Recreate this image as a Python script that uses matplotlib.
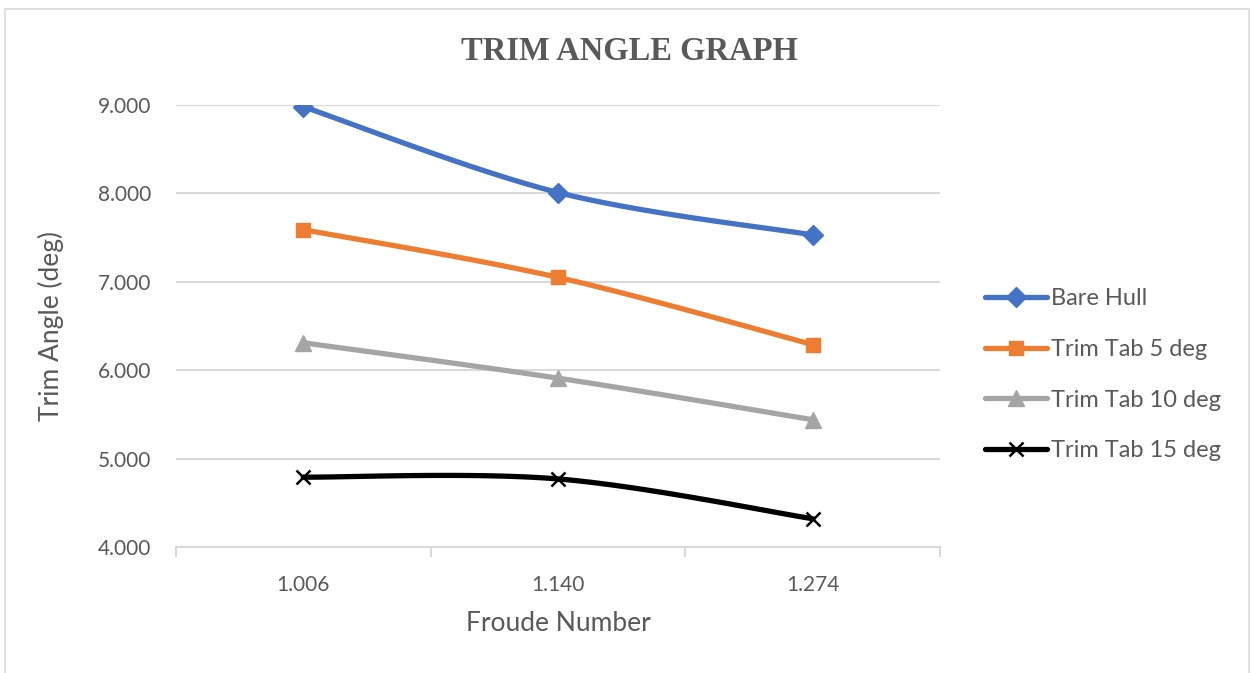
import numpy as np
import matplotlib
matplotlib.use("Agg")
import matplotlib.pyplot as plt
from matplotlib.lines import Line2D
from matplotlib.patches import Rectangle

# Data
froude_labels = ["1.006", "1.140", "1.274"]
bare_hull = [8.98, 8.01, 7.53]
trim_tab_5 = [7.59, 7.05, 6.29]
trim_tab_10 = [6.31, 5.91, 5.44]
trim_tab_15 = [4.79, 4.77, 4.32]

series = [
    ("Bare Hull", bare_hull, "#4472C4", "D", 10),
    ("Trim Tab 5 deg", trim_tab_5, "#ED7D31", "s", 10),
    ("Trim Tab 10 deg", trim_tab_10, "#A5A5A5", "^", 11),
    ("Trim Tab 15 deg", trim_tab_15, "#000000", "x", 10),
]

text_color = "#595959"
grid_color = "#D9D9D9"
font = ["Lato", "DejaVu Sans"]


def smooth_curve(x, y, n=60):
    """Catmull-Rom style Bezier smoothing through the given points."""
    x = np.asarray(x, float)
    y = np.asarray(y, float)
    pts = np.column_stack([x, y])
    out = []
    for i in range(len(pts) - 1):
        p0 = pts[i - 1] if i > 0 else pts[i]
        p1 = pts[i]
        p2 = pts[i + 1]
        p3 = pts[i + 2] if i + 2 < len(pts) else pts[i + 1]
        c1 = p1 + (p2 - p0) / 6.0
        c2 = p2 - (p3 - p1) / 6.0
        t = np.linspace(0, 1, n)[:, None]
        seg = ((1 - t) ** 3) * p1 + 3 * ((1 - t) ** 2) * t * c1 + 3 * (1 - t) * t ** 2 * c2 + t ** 3 * p2
        out.append(seg if i == 0 else seg[1:])
    seg = np.vstack(out)
    return seg[:, 0], seg[:, 1]


fig = plt.figure(figsize=(12.52, 6.73), dpi=100)
fig.patch.set_facecolor("white")
fig.patches.append(Rectangle((0.004, -0.01), 0.994, 0.997, transform=fig.transFigure,
                             fill=False, edgecolor="#D9D9D9", linewidth=1.2))

ax = fig.add_axes([0.1406, 0.1872, 0.6102, 0.6568])
xpos = np.arange(len(froude_labels)) + 0.5

for name, vals, color, marker, ms in series:
    sx, sy = smooth_curve(xpos, vals)
    ax.plot(sx, sy, color=color, linewidth=3.8, solid_capstyle="round", zorder=3)
    if marker == "x":
        ax.plot(xpos, vals, linestyle="none", marker="x", markersize=ms,
                markeredgewidth=1.8, color=color, zorder=4)
    else:
        ax.plot(xpos, vals, linestyle="none", marker=marker, markersize=ms,
                color=color, markeredgecolor=color, zorder=4)

ax.set_xlim(0, len(froude_labels))
ax.set_ylim(4, 9)
ax.set_yticks(np.arange(4, 9.01, 1))
ax.set_yticklabels([f"{v:.3f}" for v in np.arange(4, 9.01, 1)])
ax.yaxis.grid(True, color=grid_color, linewidth=1.5)
ax.set_axisbelow(True)

# category ticks at the boundaries, labels at the centres
ax.set_xticks(np.arange(len(froude_labels) + 1))
ax.set_xticklabels([])
ax.set_xticks(xpos, minor=True)
ax.set_xticklabels(froude_labels, minor=True)
ax.tick_params(axis="x", which="major", length=7, width=1.5, color=grid_color, direction="out")
ax.tick_params(axis="x", which="minor", length=0, pad=20)
ax.tick_params(axis="y", length=0, pad=18)

for lab in ax.get_xticklabels(minor=True) + ax.get_yticklabels():
    lab.set_family(font)
    lab.set_fontsize(15)
    lab.set_color(text_color)

for side in ["left", "right", "top"]:
    ax.spines[side].set_visible(False)
ax.spines["bottom"].set_color(grid_color)
ax.spines["bottom"].set_linewidth(1.5)

ax.set_xlabel("Froude Number", family=font, fontsize=19, color=text_color, labelpad=12)
ax.set_ylabel("Trim Angle (deg)", family=font, fontsize=19, color=text_color, labelpad=24)

fig.text(0.503, 0.924, "TRIM ANGLE GRAPH", ha="center", va="center",
         family=["Liberation Serif", "DejaVu Serif"], fontweight="bold",
         fontsize=23.5, color=text_color)

handles = [Line2D([0], [0], color=c, linewidth=3.8, marker=m,
                  markersize=ms, markeredgewidth=(1.8 if m == "x" else 1.0),
                  markerfacecolor=c, markeredgecolor=c, solid_capstyle="round")
           for _, _, c, m, ms in series]
leg = fig.legend(handles, [s[0] for s in series], loc="center left",
                 bbox_to_anchor=(0.770, 0.443), frameon=False, handlelength=2.6,
                 handletextpad=0.2, labelspacing=1.26, prop={"family": font, "size": 17})
for t in leg.get_texts():
    t.set_color(text_color)

fig.savefig("out.png", dpi=100, facecolor="white")
